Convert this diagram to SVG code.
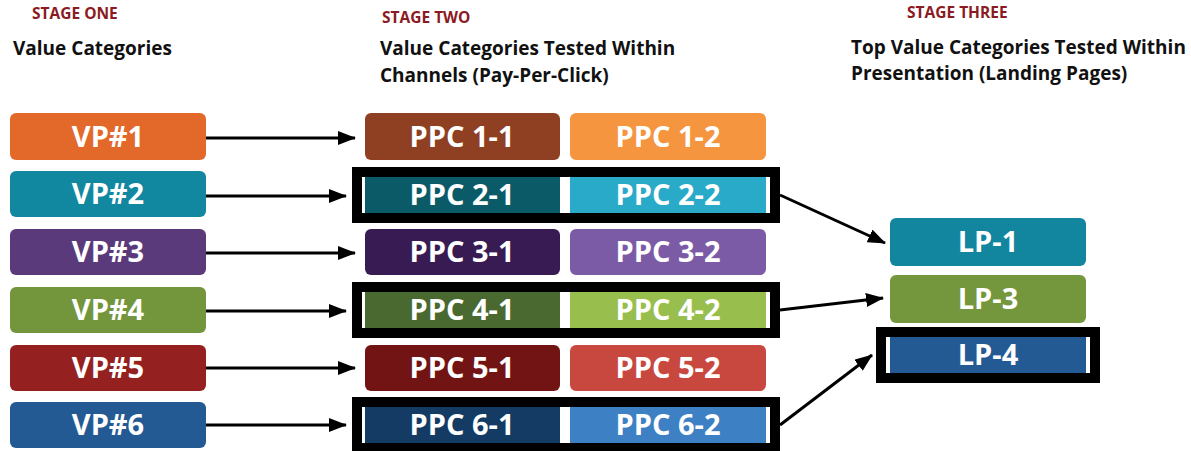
<svg xmlns="http://www.w3.org/2000/svg" width="1191" height="451" viewBox="0 0 1191 451">
<defs>
<marker id="ah" markerUnits="userSpaceOnUse" markerWidth="18" markerHeight="14" refX="17" refY="7" orient="auto">
<path d="M0,0 L18,7 L0,14 Z" fill="#000"/>
</marker>
<style>
.stage{font-family:"Open Sans","Liberation Sans",sans-serif;font-weight:bold;font-size:15.5px;fill:#8B1A22}
.head{font-family:"Open Sans","Liberation Sans",sans-serif;font-weight:bold;font-size:19px;fill:#111}
.lbl{font-family:"Open Sans","Liberation Sans",sans-serif;font-weight:bold;font-size:29px;fill:#fff;text-anchor:middle}
.frame{fill:#fff;stroke:#000;stroke-width:10}
.conn{stroke:#000;stroke-width:3;fill:none;marker-end:url(#ah)}
</style>
</defs>
<rect width="1191" height="451" fill="#fff"/>
<g id="headings">
<text class="stage" x="32" y="19">STAGE ONE</text>
<text class="head" x="13" y="55">Value Categories</text>
<text class="stage" x="382" y="23">STAGE TWO</text>
<text class="head" x="380" y="55">Value Categories Tested Within</text>
<text class="head" x="380" y="82">Channels (Pay-Per-Click)</text>
<text class="stage" x="907" y="18">STAGE THREE</text>
<text class="head" x="851" y="54">Top Value Categories Tested Within</text>
<text class="head" x="851" y="80">Presentation (Landing Pages)</text>
</g>
<g id="vp1"><rect x="10" y="113" width="196" height="47" rx="6" fill="#E2692A"/><text class="lbl" x="108" y="147">VP#1</text></g>
<g id="vp2"><rect x="10" y="171" width="196" height="46" rx="6" fill="#1287A0"/><text class="lbl" x="108" y="204">VP#2</text></g>
<g id="vp3"><rect x="10" y="229" width="196" height="46" rx="6" fill="#5A3A7A"/><text class="lbl" x="108" y="262">VP#3</text></g>
<g id="vp4"><rect x="10" y="287" width="196" height="46" rx="6" fill="#73963C"/><text class="lbl" x="108" y="320">VP#4</text></g>
<g id="vp5"><rect x="10" y="345" width="196" height="46" rx="6" fill="#952020"/><text class="lbl" x="108" y="378">VP#5</text></g>
<g id="vp6"><rect x="10" y="402" width="196" height="46" rx="6" fill="#245A94"/><text class="lbl" x="108" y="435">VP#6</text></g>
<g id="ppc1"><rect x="365" y="113" width="195" height="47" rx="6" fill="#8F3F22"/><text class="lbl" x="462" y="147">PPC 1-1</text>
<rect x="570" y="113" width="196" height="47" rx="6" fill="#F5953F"/><text class="lbl" x="668" y="147">PPC 1-2</text></g>
<g id="ppc2"><rect class="frame" x="357" y="172" width="418" height="46"/>
<rect x="365" y="177" width="195" height="36" fill="#0B5A68"/><text class="lbl" x="462" y="205">PPC 2-1</text>
<rect x="570" y="177" width="196" height="36" fill="#2AAAC9"/><text class="lbl" x="668" y="205">PPC 2-2</text></g>
<g id="ppc3"><rect x="365" y="229" width="195" height="46" rx="6" fill="#371B52"/><text class="lbl" x="462" y="262">PPC 3-1</text>
<rect x="570" y="229" width="196" height="46" rx="6" fill="#7C5BA6"/><text class="lbl" x="668" y="262">PPC 3-2</text></g>
<g id="ppc4"><rect class="frame" x="357" y="287" width="418" height="46"/>
<rect x="365" y="292" width="195" height="36" fill="#4A6930"/><text class="lbl" x="462" y="320">PPC 4-1</text>
<rect x="570" y="292" width="196" height="36" fill="#98BE4E"/><text class="lbl" x="668" y="320">PPC 4-2</text></g>
<g id="ppc5"><rect x="365" y="345" width="195" height="46" rx="6" fill="#731414"/><text class="lbl" x="462" y="378">PPC 5-1</text>
<rect x="570" y="345" width="196" height="46" rx="6" fill="#C8483F"/><text class="lbl" x="668" y="378">PPC 5-2</text></g>
<g id="ppc6"><rect class="frame" x="357" y="402" width="418" height="46"/>
<rect x="365" y="407" width="195" height="36" fill="#133B63"/><text class="lbl" x="462" y="435">PPC 6-1</text>
<rect x="570" y="407" width="196" height="36" fill="#3D80C4"/><text class="lbl" x="668" y="435">PPC 6-2</text></g>
<g id="lp1"><rect x="890" y="218" width="196" height="48" rx="6" fill="#12869F"/><text class="lbl" x="988" y="252">LP-1</text></g>
<g id="lp3"><rect x="890" y="275" width="196" height="48" rx="6" fill="#74963C"/><text class="lbl" x="988" y="309">LP-3</text></g>
<g id="lp4"><rect class="frame" x="881" y="332" width="214" height="46"/>
<rect x="890" y="337" width="196" height="36" fill="#245A94"/><text class="lbl" x="988" y="365">LP-4</text></g>
<g id="connectors">
<line class="conn" x1="206" y1="138" x2="355" y2="138"/>
<line class="conn" x1="206" y1="196" x2="346" y2="196"/>
<line class="conn" x1="206" y1="253" x2="355" y2="253"/>
<line class="conn" x1="206" y1="311" x2="346" y2="311"/>
<line class="conn" x1="206" y1="368" x2="355" y2="368"/>
<line class="conn" x1="206" y1="425" x2="346" y2="425"/>
<line class="conn" x1="780" y1="195" x2="885" y2="243"/>
<line class="conn" x1="780" y1="310" x2="883" y2="298"/>
<line class="conn" x1="780" y1="425" x2="872" y2="355"/>
</g>
</svg>
